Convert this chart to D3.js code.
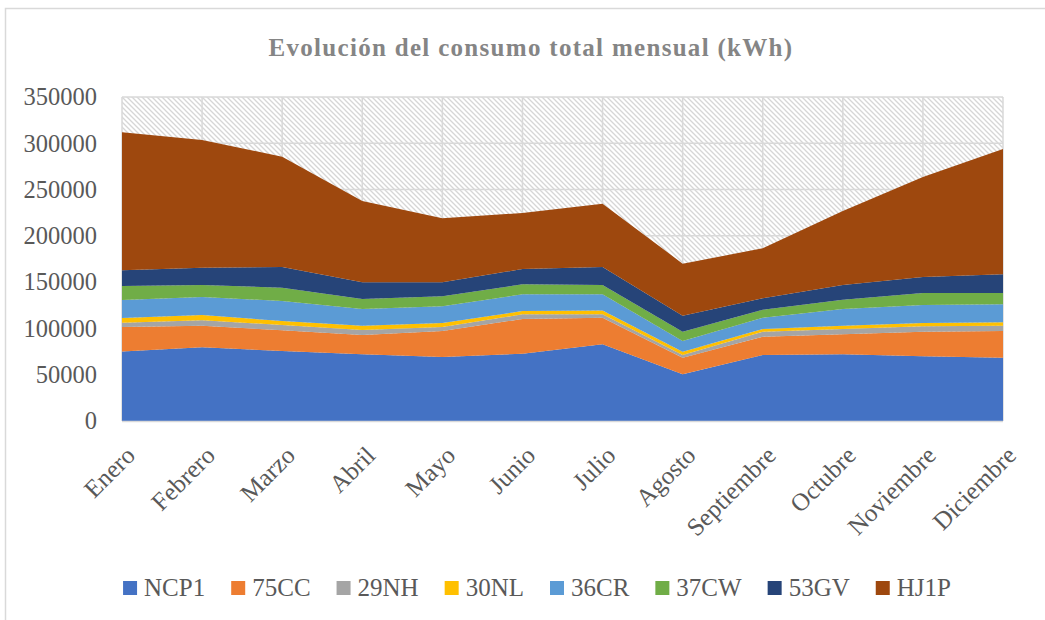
<!DOCTYPE html>
<html>
<head>
<meta charset="utf-8">
<script src="https://cdn.jsdelivr.net/npm/d3@7"></script>
<style>
  body { margin: 0; background: #fff; }
  svg { display: block; font-family: "Liberation Serif", "DejaVu Serif", serif; }
</style>
</head>
<body>
<div id="chart"></div>
<script>
'use strict';

const months = ["Enero", "Febrero", "Marzo", "Abril", "Mayo", "Junio", "Julio",
    "Agosto", "Septiembre", "Octubre", "Noviembre", "Diciembre"];

const ncp1 = [75000, 79600, 75600, 72000, 69100, 72700, 82800, 50400, 71300, 72000, 69900, 68400];
const cc75 = [26500, 23400, 22400, 20900, 28100, 37500, 28800, 18000, 19800, 21600, 26600, 28800];
const nh29 = [4700, 5800, 5700, 5400, 4400, 5000, 3600, 2900, 5400, 5800, 5800, 5800];
const nl30 = [5000, 5700, 4300, 4700, 4300, 3600, 4300, 3600, 2900, 3600, 3600, 3600];
const cr36 = [19500, 19500, 21600, 18000, 18000, 18000, 17300, 11500, 12200, 18000, 19400, 19400];
const cw37 = [15100, 12900, 14400, 10800, 10800, 10900, 10100, 10100, 8700, 10000, 13000, 12300];
const gv53 = [17000, 18700, 22400, 18000, 15100, 16500, 19500, 17300, 12200, 15900, 17300, 20200];
const hj1p = [149000, 137900, 119100, 87900, 69200, 60500, 68400, 56200, 54000, 80000, 108000, 135300];

const seriesNames = ["NCP1", "75CC", "29NH", "30NL", "36CR", "37CW", "53GV", "HJ1P"];
const seriesValues = [ncp1, cc75, nh29, nl30, cr36, cw37, gv53, hj1p];
const colors = ["#4472C4", "#ED7D31", "#A5A5A5", "#FFC000", "#5B9BD5", "#70AD47", "#264478", "#9E480E"];
const yTicks = [0, 50000, 100000, 150000, 200000, 250000, 300000, 350000];

const W = 1045, H = 620;
const margin = {top: 97, left: 122, right: 1003, bottom: 421};

const svg = d3.select("#chart").append("svg")
    .attr("width", W)
    .attr("height", H);

// hatch pattern for the plot background
const pat = svg.append("defs").append("pattern")
    .attr("id", "hatch")
    .attr("patternUnits", "userSpaceOnUse")
    .attr("width", 5)
    .attr("height", 5);
pat.append("rect").attr("width", 5).attr("height", 5).attr("fill", "#fff");
pat.append("path")
    .attr("d", "M-1,-1 L6,6 M-1,4 L1,6 M4,-1 L6,1")
    .attr("stroke", "#d6d6d6")
    .attr("stroke-width", 1.3);

// outer chart frame
svg.append("rect")
    .attr("x", 5.5).attr("y", 8.5)
    .attr("width", 1200).attr("height", 800)
    .attr("fill", "none")
    .attr("stroke", "#d9d9d9")
    .attr("stroke-width", 1.5);

svg.append("text")
    .attr("x", 531)
    .attr("y", 56)
    .attr("text-anchor", "middle")
    .attr("fill", "#858585")
    .attr("font-weight", "bold")
    .attr("font-size", 25)
    .attr("letter-spacing", 1.3)
    .text("Evolución del consumo total mensual (kWh)");

const x = d3.scalePoint()
    .domain(months)
    .range([margin.left, margin.right]);

const y = d3.scaleLinear()
    .domain([0, 350000])
    .range([margin.bottom, margin.top]);

// plot background
svg.append("rect")
    .attr("x", margin.left).attr("y", margin.top)
    .attr("width", margin.right - margin.left)
    .attr("height", margin.bottom - margin.top)
    .attr("fill", "url(#hatch)");

// gridlines
svg.append("g")
    .selectAll("line.h")
    .data(yTicks)
    .join("line")
      .attr("x1", margin.left).attr("x2", margin.right)
      .attr("y1", d => y(d)).attr("y2", d => y(d))
      .attr("stroke", "#d9d9d9")
      .attr("stroke-width", 1.5);

svg.append("g")
    .selectAll("line.v")
    .data(months)
    .join("line")
      .attr("x1", d => x(d)).attr("x2", d => x(d))
      .attr("y1", margin.top).attr("y2", margin.bottom)
      .attr("stroke", "#d9d9d9")
      .attr("stroke-width", 1.5);

// stacked areas
const table = months.map((m, i) => {
    const row = {month: m};
    seriesNames.forEach((s, j) => { row[s] = seriesValues[j][i]; });
    return row;
});

const stacked = d3.stack().keys(seriesNames)(table);

const area = d3.area()
    .x(d => x(d.data.month))
    .y0(d => y(d[0]))
    .y1(d => y(d[1]));

svg.append("g")
    .selectAll("path")
    .data(stacked)
    .join("path")
      .attr("fill", (d, i) => colors[i])
      .attr("d", area);

// bottom axis line
svg.append("line")
    .attr("x1", margin.left).attr("x2", margin.right)
    .attr("y1", margin.bottom + 0.5).attr("y2", margin.bottom + 0.5)
    .attr("stroke", "#d9d9d9")
    .attr("stroke-width", 1.5);

// y axis
const yAxis = svg.append("g")
    .attr("transform", `translate(${margin.left - 25},0)`)
    .call(d3.axisLeft(y).tickValues(yTicks).tickSize(0).tickPadding(0).tickFormat(d3.format("d")));
yAxis.select(".domain").remove();
yAxis.selectAll("text")
    .attr("fill", "#595959")
    .attr("font-size", 24.5)
    .attr("font-family", "Liberation Serif, serif");

// x axis
const xAxis = svg.append("g")
    .attr("transform", `translate(0,${margin.bottom})`)
    .call(d3.axisBottom(x).tickSize(0).tickPadding(0));
xAxis.select(".domain").remove();
xAxis.selectAll("text")
    .attr("fill", "#595959")
    .attr("font-size", 25)
    .attr("font-family", "Liberation Serif, serif")
    .attr("text-anchor", "end")
    .attr("dy", 0)
    .attr("transform", "translate(14,36) rotate(-45)");

// legend
const legend = svg.append("g");
const items = legend.selectAll("g")
    .data(seriesNames)
    .join("g");
items.append("rect")
    .attr("width", 14).attr("height", 14)
    .attr("y", -15)
    .attr("fill", (d, i) => colors[i]);
items.append("text")
    .attr("x", 21)
    .attr("fill", "#595959")
    .attr("font-size", 25)
    .text(d => d);

let pos = 0;
const gap = 26;
items.each(function() {
    const w = 21 + this.querySelector("text").getComputedTextLength();
    d3.select(this).attr("transform", `translate(${pos},0)`);
    pos += w + gap;
});
const total = pos - gap;
legend.attr("transform", `translate(${537 - total / 2},596)`);
</script>
</body>
</html>
